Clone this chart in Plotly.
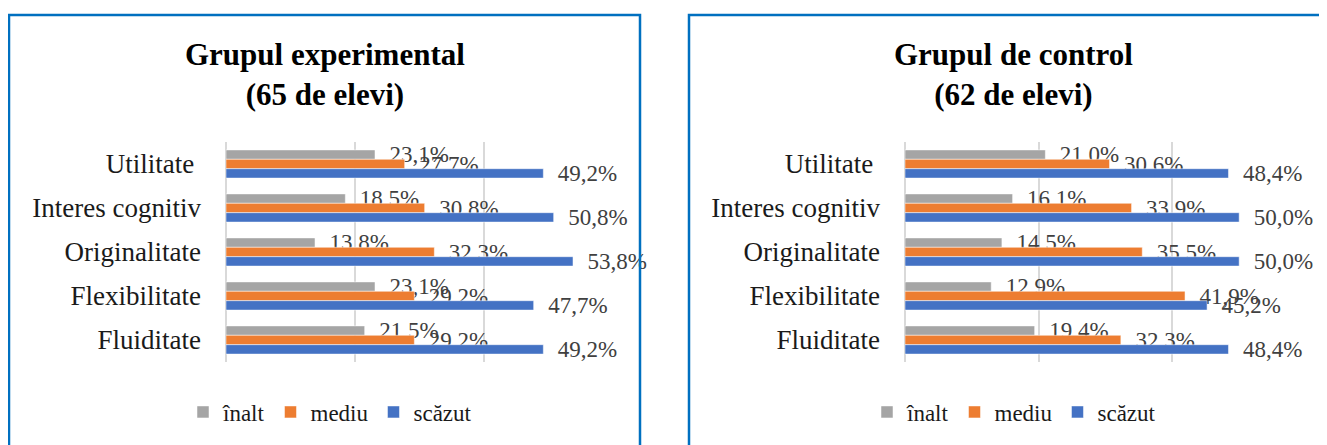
import plotly.graph_objects as go

W, H = 1327, 445
# pagina are o margine implicita de 8px in jurul graficului
OFF = 8

categorii = ['Utilitate\u00a0', 'Interes cognitiv', 'Originalitate', 'Flexibilitate', 'Fluiditate']
niveluri = ['înalt', 'mediu', 'scăzut']
culori = ['#A5A5A5', '#ED7D31', '#4472C4']

# grupul experimental (65 de elevi), procente
exp_inalt = [23.1, 18.5, 13.8, 23.1, 21.5]
exp_mediu = [27.7, 30.8, 32.3, 29.2, 29.2]
exp_scazut = [49.2, 50.8, 53.8, 47.7, 49.2]

# grupul de control (62 de elevi), procente
ctrl_inalt = [21.0, 16.1, 14.5, 12.9, 19.4]
ctrl_mediu = [30.6, 33.9, 35.5, 41.9, 32.3]
ctrl_scazut = [48.4, 50.0, 50.0, 45.2, 48.4]

titluri = ['<b>Grupul experimental<br>(65 de elevi)</b>', '<b>Grupul de control<br>(62 de elevi)</b>']

SERIF = 'Liberation Serif, Times New Roman, serif'


def px(x):
    return (x - OFF) / W


def py(y):
    return 1 - (y - OFF) / H


def eticheta(v):
    return '\u00a0\u00a0' + f'{v:.1f}'.replace('.', ',') + '%'


fig = go.Figure()

grupuri = [
    (exp_inalt, exp_mediu, exp_scazut),
    (ctrl_inalt, ctrl_mediu, ctrl_scazut),
]
for g, serii in enumerate(grupuri):
    ax = '' if g == 0 else '2'
    for nivel, culoare, vals in zip(niveluri, culori, serii):
        fig.add_trace(go.Bar(
            y=categorii,
            x=vals,
            orientation='h',
            name=nivel,
            marker=dict(color=culoare, line=dict(color='white', width=0.5)),
            text=[eticheta(v) for v in vals],
            textposition='outside',
            constraintext='none',
            cliponaxis=False,
            textfont=dict(family=SERIF, size=23, color='#404040'),
            xaxis='x' + ax,
            yaxis='y' + ax,
            legend='legend' if g == 0 else 'legend2',
            hoverinfo='skip',
        ))

ydom = [py(362), py(142)]
ax_x = dict(range=[0, 60], dtick=20, showgrid=True, gridcolor='#D9D9D9', gridwidth=2,
            zeroline=True, zerolinecolor='#D9D9D9', zerolinewidth=2,
            showticklabels=False, fixedrange=True)
ax_y = dict(autorange='reversed', showgrid=False, ticks='', ticklabelstandoff=24,
            tickfont=dict(family=SERIF, size=27, color='#1a1a1a'), showline=False)

leg = dict(orientation='h', xanchor='center', yanchor='middle', y=py(412),
           font=dict(family=SERIF, size=23, color='#1a1a1a'), itemwidth=30,
           bgcolor='rgba(0,0,0,0)', traceorder='normal')

fig.update_layout(
    width=W, height=H,
    margin=dict(l=0, r=0, t=0, b=0),
    paper_bgcolor='white',
    plot_bgcolor='white',
    barmode='group',
    bargap=0.36,
    bargroupgap=0,
    showlegend=True,
    xaxis=dict(domain=[px(226), px(613)], anchor='y', **ax_x),
    yaxis=dict(domain=ydom, anchor='x', **ax_y),
    xaxis2=dict(domain=[px(905), px(1306)], anchor='y2', **ax_x),
    yaxis2=dict(domain=ydom, anchor='x2', **ax_y),
    legend=dict(x=px(330), **leg),
    legend2=dict(x=px(1014), **leg),
)

# chenarele celor doua diagrame
fig.add_shape(type='rect', xref='paper', yref='paper', x0=px(9), x1=px(640),
              y0=-0.1, y1=py(15), line=dict(color='#0070C0', width=2.5))
fig.add_shape(type='rect', xref='paper', yref='paper', x0=px(689), x1=px(1345),
              y0=-0.1, y1=py(15), line=dict(color='#0070C0', width=2.5))

for cx, t in zip([px(325), px(1013)], titluri):
    fig.add_annotation(x=cx, y=py(74), xref='paper', yref='paper', text=t,
                       showarrow=False, xanchor='center', yanchor='middle',
                       font=dict(family=SERIF, size=31, color='#000000'))

fig.write_html('out.html')
